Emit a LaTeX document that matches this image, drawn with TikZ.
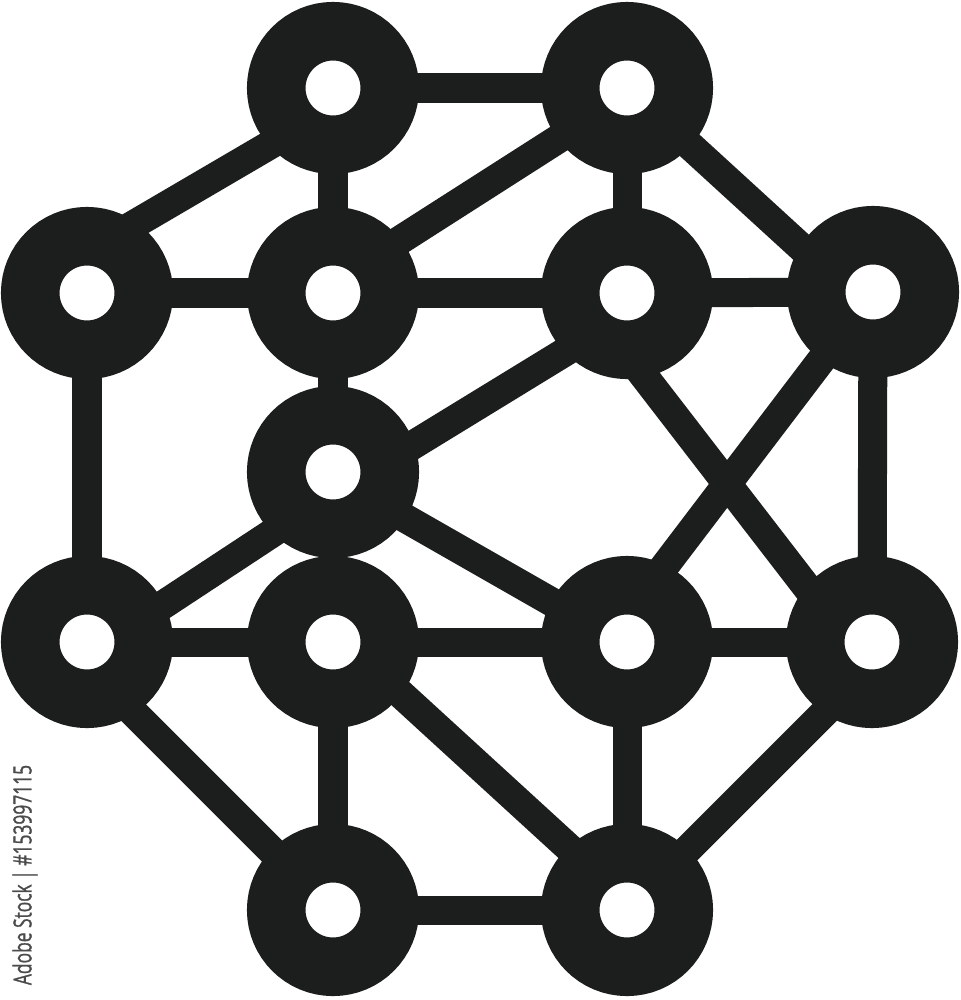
\documentclass[tikz,border=0pt]{standalone}
\usepackage{fontspec}
\usepackage{graphicx}
\usetikzlibrary{calc,backgrounds}
\newfontfamily\wmfont[FakeBold=1.2]{Open Sans}
\definecolor{ink}{RGB}{28,30,29}
\definecolor{wmgray}{RGB}{75,75,75}
\tikzset{
  atom/.style={circle, draw=ink, fill=white, line width=0.585cm, minimum size=1.135cm, inner sep=0pt},
  bond/.style={draw=ink, line width=0.29cm},
}
\begin{document}
\begin{tikzpicture}[x=0.01cm,y=-0.01cm]
\useasboundingbox (0,0) rectangle (961,1000);
% atoms
\node[atom] (A) at (333,88) {};
\node[atom] (B) at (627,88) {};
\node[atom] (C) at (87,293) {};
\node[atom] (D) at (333,293) {};
\node[atom] (E) at (627,293) {};
\node[atom] (F) at (873,292) {};
\node[atom] (G) at (333,472) {};
\node[atom] (H) at (87,642) {};
\node[atom] (I) at (333,642) {};
\node[atom] (J) at (627,642) {};
\node[atom] (K) at (872,642) {};
\node[atom] (L) at (333,910) {};
\node[atom] (M) at (627,910) {};
\begin{scope}[on background layer]
\fill[white] (0,0) rectangle (961,1000);
\path[bond] (A.center) -- (B.center);
\path[bond] ($(A)+(0,20)$) -- ($(C)+(0,-41)$);
\path[bond] (A.center) -- (D.center);
\path[bond] ($(B)+(0,7)$) -- ($(D)+(0,-10)$);
\path[bond] (B.center) -- (E.center);
\path[bond] (B.center) -- ($(F)+(0,21)$);
\path[bond] (C.center) -- (D.center);
\path[bond] (D.center) -- (E.center);
\path[bond] (E.center) -- (F.center);
\path[bond] (C.center) -- (H.center);
\path[bond] (D.center) -- (G.center);
\path[bond] ($(E)+(0,21)$) -- ($(G)+(0,22)$);
\path[bond] ($(E)+(-47,0)$) -- ($(K)+(-23,0)$);
\path[bond] (F.center) -- ($(J)+(-20,0)$);
\path[bond] (F.center) -- (K.center);
\path[bond] ($(G)+(0,21)$) -- ($(H)+(0,13)$);
\path[bond] ($(G)+(0,5)$) -- ($(J)+(0,3)$);
\path[bond] (H.center) -- (I.center);
\path[bond] (I.center) -- (J.center);
\path[bond] (J.center) -- (K.center);
\path[bond] ($(H)+(0,24)$) -- ($(L)+(0,2)$);
\path[bond] (I.center) -- (L.center);
\path[bond] ($(I)+(0,-10)$) -- ($(M)+(0,-9)$);
\path[bond] (J.center) -- (M.center);
\path[bond] ($(K)+(0,23)$) -- (M.center);
\path[bond] (L.center) -- (M.center);
\end{scope}
% stock label
\node[rotate=90, inner sep=0pt, text=wmgray] (wm) at (25,875)
  {\resizebox{2.2cm}{0.19cm}{\wmfont Adobe Stock | \#153997115}};
\end{tikzpicture}
\end{document}
